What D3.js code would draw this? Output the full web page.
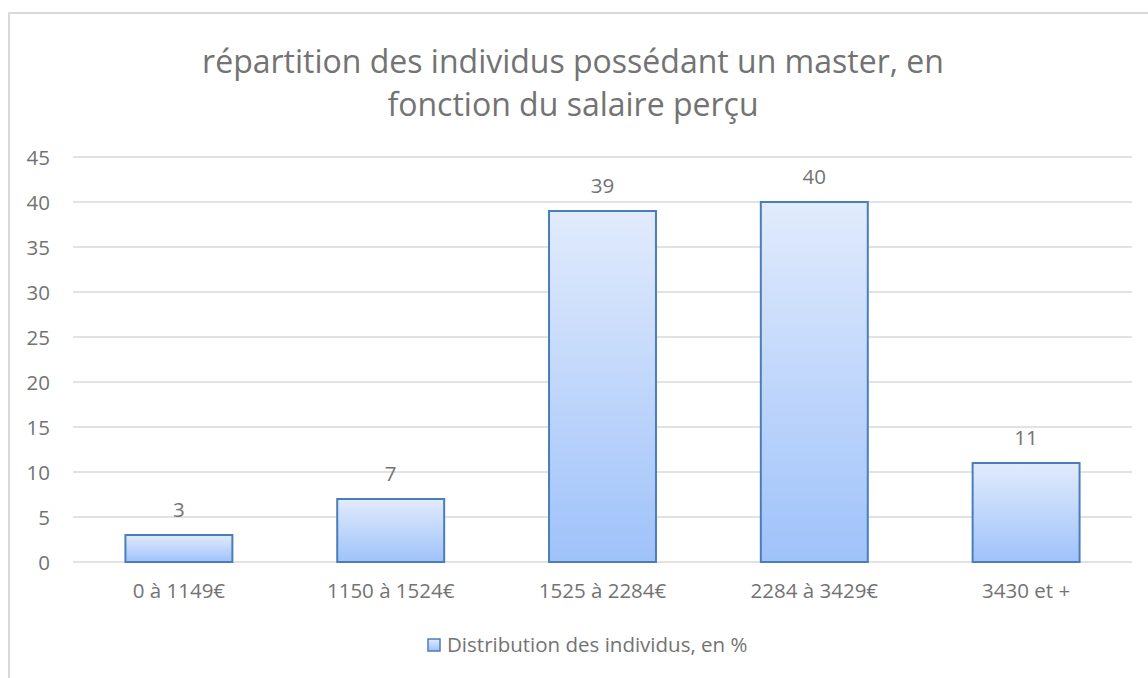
<!DOCTYPE html>
<html lang="fr">
<head>
<meta charset="UTF-8">
<title>répartition des individus</title>
<script src="https://d3js.org/d3.v7.min.js"></script>
<style>
  body { margin: 0; background: #fff; }
  svg text { font-family: "Open Sans", Lato, sans-serif; fill: #737373; }
</style>
</head>
<body>
<div id="chart"></div>
<script>
const categories = ["0 à 1149€", "1150 à 1524€", "1525 à 2284€", "2284 à 3429€", "3430 et +"];
const values = [3, 7, 39, 40, 11];
const yTicks = [0, 5, 10, 15, 20, 25, 30, 35, 40, 45];
const titleLines = ["répartition des individus possédant un master, en", "fonction du salaire perçu"];
const seriesName = "Distribution des individus, en %";

const width = 1148, height = 678;
const plot = { left: 73, right: 1132, top: 157, bottom: 562 };
const labelSize = 20.5;

const svg = d3.select("#chart").append("svg")
  .attr("width", width)
  .attr("height", height);

const defs = svg.append("defs");
const grad = defs.append("linearGradient")
  .attr("id", "barGrad")
  .attr("x1", 0).attr("y1", 0).attr("x2", 0).attr("y2", 1);
grad.append("stop").attr("offset", "0%").attr("stop-color", "#e1ebfc");
grad.append("stop").attr("offset", "100%").attr("stop-color", "#9fc2fa");

// chart frame
svg.append("rect")
  .attr("x", 9).attr("y", 13)
  .attr("width", width + 20).attr("height", height + 20)
  .attr("fill", "none")
  .attr("stroke", "#d9d9d9")
  .attr("stroke-width", 2);

const x = d3.scaleBand()
  .domain(categories)
  .range([plot.left, plot.right])
  .paddingInner(0.495)
  .paddingOuter(0.2475);

const y = d3.scaleLinear()
  .domain([0, 45])
  .range([plot.bottom, plot.top]);

// gridlines
svg.append("g")
  .selectAll("line")
  .data(yTicks)
  .join("line")
  .attr("x1", plot.left).attr("x2", plot.right)
  .attr("y1", d => y(d)).attr("y2", d => y(d))
  .attr("stroke", "#d9d9d9")
  .attr("stroke-width", 1.5);

// y axis labels
const yAxis = d3.axisLeft(y).tickValues(yTicks).tickSize(0).tickPadding(0);
svg.append("g")
  .attr("transform", `translate(${plot.left - 23},0)`)
  .call(yAxis)
  .call(g => g.select(".domain").remove())
  .selectAll("text")
  .attr("font-size", labelSize)
  .attr("dy", "0.35em");

// x axis labels
const xAxis = d3.axisBottom(x).tickSize(0).tickPadding(0);
svg.append("g")
  .attr("transform", `translate(0,${plot.bottom + 29})`)
  .call(xAxis)
  .call(g => g.select(".domain").remove())
  .selectAll("text")
  .attr("font-size", labelSize)
  .attr("dy", "0.35em");

// bars
svg.append("g")
  .selectAll("rect")
  .data(values)
  .join("rect")
  .attr("x", (d, i) => x(categories[i]))
  .attr("y", d => y(d))
  .attr("width", x.bandwidth())
  .attr("height", d => y(0) - y(d))
  .attr("fill", "url(#barGrad)")
  .attr("stroke", "#4a7ebb")
  .attr("stroke-width", 2);

// value labels
svg.append("g")
  .selectAll("text")
  .data(values)
  .join("text")
  .attr("x", (d, i) => x(categories[i]) + x.bandwidth() / 2)
  .attr("y", d => y(d) - 25)
  .attr("dy", "0.35em")
  .attr("text-anchor", "middle")
  .attr("font-size", labelSize)
  .text(d => d);

// title
svg.append("g")
  .selectAll("text")
  .data(titleLines)
  .join("text")
  .attr("x", 573)
  .attr("y", (d, i) => 62 + i * 43)
  .attr("dy", "0.35em")
  .attr("text-anchor", "middle")
  .attr("font-size", 32)
  .text(d => d);

// legend
const legend = svg.append("g").attr("transform", "translate(427,645)");
legend.append("rect")
  .attr("x", 1).attr("y", -6)
  .attr("width", 12).attr("height", 12)
  .attr("fill", "url(#barGrad)")
  .attr("stroke", "#4a7ebb")
  .attr("stroke-width", 1.5);
legend.append("text")
  .attr("x", 20)
  .attr("dy", "0.35em")
  .attr("font-size", labelSize)
  .text(seriesName);
</script>
</body>
</html>
